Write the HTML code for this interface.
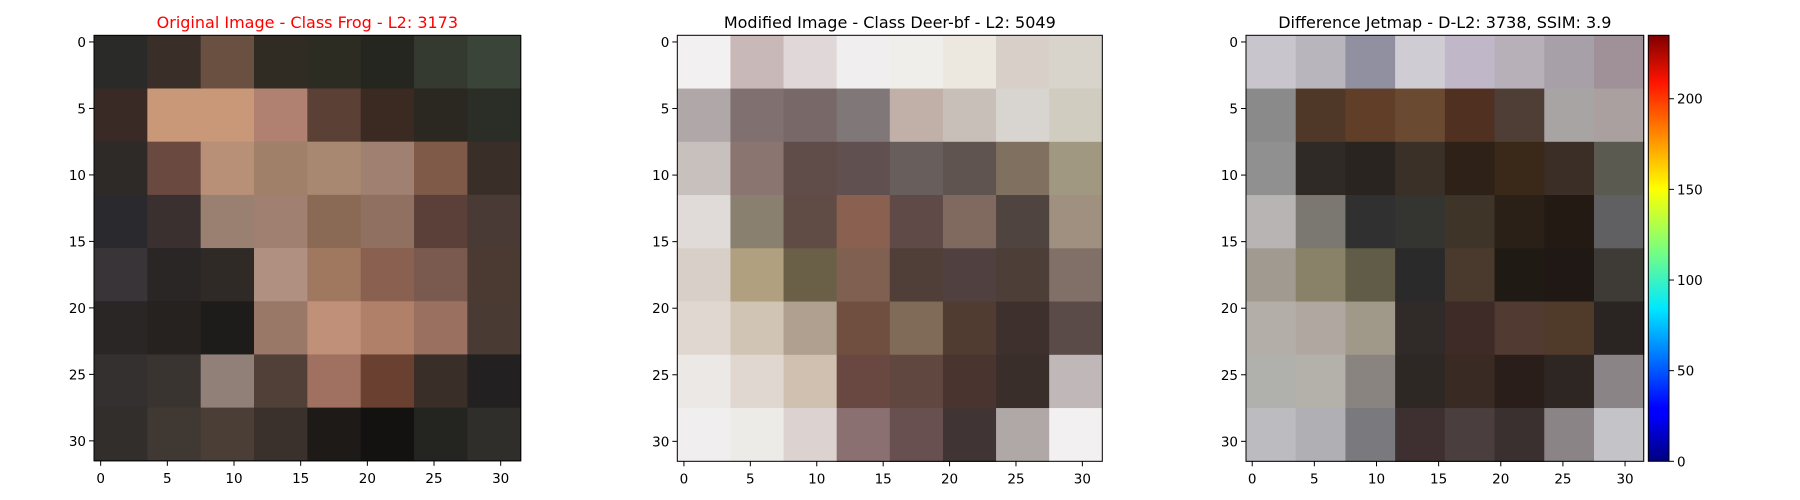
<!DOCTYPE html>
<html><head><meta charset="utf-8"><title>Image comparison</title>
<style>
html,body{margin:0;padding:0;background:#fff;}
svg{display:block;font-family:"DejaVu Sans","Liberation Sans",sans-serif;}
</style></head>
<body>
<svg id="fig" width="1800" height="500" viewBox="0 0 1800 500" xmlns="http://www.w3.org/2000/svg">
<defs>
<linearGradient id="jet" x1="0" y1="1" x2="0" y2="0">
<stop offset="0" stop-color="#00007f"/>
<stop offset="0.11" stop-color="#0000ff"/>
<stop offset="0.125" stop-color="#0000ff"/>
<stop offset="0.36" stop-color="#00e8ff"/>
<stop offset="0.5" stop-color="#7dff7a"/>
<stop offset="0.64" stop-color="#ffff00"/>
<stop offset="0.89" stop-color="#ff1400"/>
<stop offset="1" stop-color="#7f0000"/>
</linearGradient>
</defs>
</svg>
<script>
// image data: 8x8 block colours (each block = 4x4 source pixels)
const img1 = [
["#2a2a28","#3a2e28","#6a5040","#302c24","#2c2c22","#262620","#343a30","#3a4438"],
["#3a2a25","#c89878","#c89878","#b08070","#5a4035","#3a2a22","#2a2820","#2a2e26"],
["#2e2a28","#6a4a40","#b89078","#a08068","#a88870","#a08070","#805a48","#3a2e28"],
["#2a2a2e","#3a3030","#9a8070","#a08070","#8a6a55","#907060","#5a4038","#4a3a35"],
["#383438","#2a2626","#302a26","#b09080","#a07860","#8a6050","#7a5a4e","#4a3a32"],
["#2a2626","#262220","#1e1c1a","#9a7868","#c09078","#b08068","#9a7060","#4a3a34"],
["#343030","#3a3430","#908078","#504038","#a07060","#6a4030","#3a2e28","#222020"],
["#322e2c","#403832","#4a3e36","#3a302c","#1e1a18","#141210","#242420","#302e2a"]];
const img2 = [
["#f2f0f0","#c8b8b8","#e0d8d8","#f0eeee","#efeeea","#ece8e0","#d8d0c8","#d8d4cc"],
["#b0a8a8","#807070","#786868","#807878","#c0b0a8","#c8c0b8","#d8d4d0","#d0ccc0"],
["#c8c0bc","#8a7570","#604c48","#605050","#685e5c","#605450","#807060","#a09880"],
["#e0dad8","#8a8070","#604c44","#8a6050","#604a48","#806a60","#504440","#a09080"],
["#d8d0c8","#b0a080","#6a6048","#806050","#503e38","#504040","#4e3e38","#807068"],
["#e0d8d0","#d0c4b4","#b0a090","#704e40","#806a58","#503c30","#3e302c","#5a4a48"],
["#ece8e6","#e0d8d0","#d0c0b0","#684840","#604840","#4a3430","#3a2e2a","#c0b8b8"],
["#f0eeee","#ecebe8","#dcd2d0","#8a7070","#685050","#403534","#b0a8a6","#f2f0f0"]];
const img3 = [
["#c8c6cc","#b8b6bc","#9090a0","#d0ccd4","#c0b8c8","#b8b0b8","#a8a0a8","#a09098"],
["#8a8a8a","#503828","#603e28","#6a4a30","#503020","#4e3e36","#a8a4a4","#aaa0a0"],
["#909090","#302a26","#2a2420","#3a3028","#2e2218","#3a2818","#3a2e26","#5a5a50"],
["#b8b4b4","#7a7870","#303030","#343430","#3e3428","#2a2018","#241a14","#606062"],
["#a09a90","#8a8268","#605c48","#2a2a2a","#4a3a2e","#201a14","#201814","#3e3a36"],
["#b4aea8","#b0a8a0","#a09888","#302a28","#3e2a26","#503a32","#503a2a","#2a2422"],
["#b0b0ac","#b4b0aa","#8a8480","#2e2824","#3a2a24","#2a1e1a","#2e2622","#8a8486"],
["#bcbcc0","#b0b0b4","#7a7a7e","#3e3030","#4a3e3e","#3a3030","#8a8486","#c4c4c8"]];
const titles = ["Original Image - Class Frog - L2: 3173","Modified Image - Class Deer-bf - L2: 5049","Difference Jetmap - D-L2: 3738, SSIM: 3.9"];
const titleColors = ["#ff0000","#000000","#000000"];
const axisTicks = [0,5,10,15,20,25,30];
const cbarTicks = [0,50,100,150,200];
const cbarMax = 235;

const NS="http://www.w3.org/2000/svg";
const svg=document.getElementById('fig');
function mk(tag,attrs,parent){const e=document.createElementNS(NS,tag);for(const k in attrs)e.setAttribute(k,attrs[k]);(parent||svg).appendChild(e);return e;}

const panels=[
 {x:94,y:35.3,w:426.7,h:425.5,img:img1,name:'original-image'},
 {x:677.3,y:35.3,w:425,h:426,img:img2,name:'modified-image'},
 {x:1246,y:35.3,w:397.7,h:426,img:img3,name:'difference-jetmap'}];

panels.forEach((p,pi)=>{
  const g=mk('g',{});
  
  
  const n=p.img.length, bw=p.w/n, bh=p.h/n;
  const sx=v=>p.x+(v+0.5)*p.w/32, sy=v=>p.y+(v+0.5)*p.h/32;
  p.img.forEach((row,r)=>row.forEach((c,ci)=>{
    const rc=mk('rect',{x:p.x+ci*bw,y:p.y+r*bh,width:bw+0.6,height:bh+0.6,fill:c},g);
    
    
  }));
  const fr=mk('rect',{x:p.x,y:p.y,width:p.w,height:p.h,fill:'none',stroke:'#000','stroke-width':1},g);
  
  
  axisTicks.forEach(t=>{
    mk('line',{x1:sx(t),x2:sx(t),y1:p.y+p.h,y2:p.y+p.h+5,stroke:'#000','stroke-width':1},g);
    const tx=mk('text',{x:sx(t),y:p.y+p.h+22,'font-size':13.5,'text-anchor':'middle',fill:'#000'},g);
    tx.textContent=t;
    
    
    mk('line',{x1:p.x-5,x2:p.x,y1:sy(t),y2:sy(t),stroke:'#000','stroke-width':1},g);
    const ty=mk('text',{x:p.x-8,y:sy(t)+5,'font-size':13.5,'text-anchor':'end',fill:'#000'},g);
    ty.textContent=t;
    
    
  });
  const tt=mk('text',{x:p.x+p.w/2,y:28,'font-size':16,'text-anchor':'middle',fill:titleColors[pi]},g);
  tt.textContent=titles[pi];
  
  
});

// colorbar
const cb={x:1648.3,y:35.3,w:20.7,h:426};
const cg=mk('g',{});


mk('rect',{x:cb.x,y:cb.y,width:cb.w,height:cb.h,fill:'url(#jet)',stroke:'#000','stroke-width':1},cg);
const cy=v=>cb.y+cb.h-v/cbarMax*cb.h;
cbarTicks.forEach(t=>{
  mk('line',{x1:cb.x+cb.w,x2:cb.x+cb.w+5,y1:cy(t),y2:cy(t),stroke:'#000','stroke-width':1},cg);
  const tx=mk('text',{x:cb.x+cb.w+8,y:cy(t)+5,'font-size':13.5,fill:'#000'},cg);
  tx.textContent=t;
  
  
});
</script>
</body></html>
